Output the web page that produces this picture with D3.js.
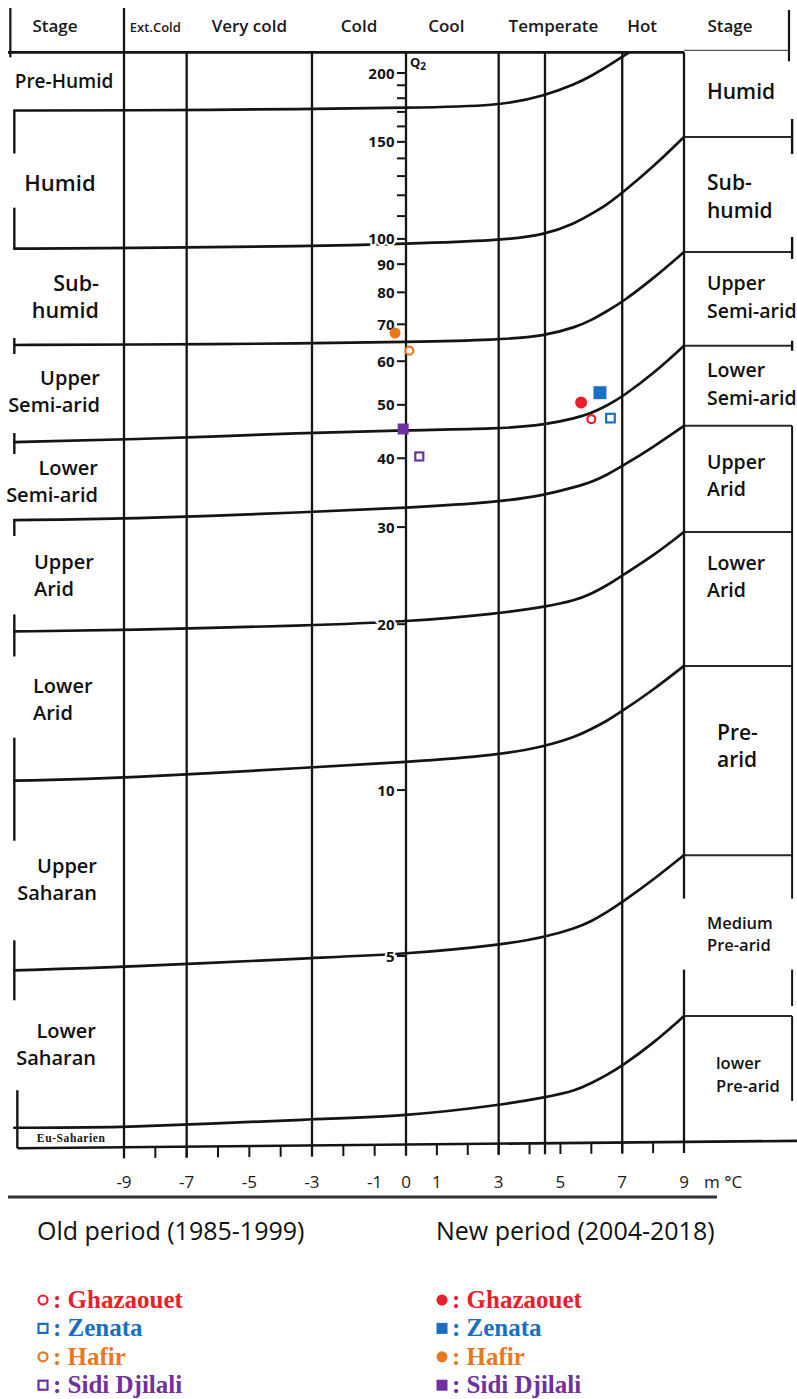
<!DOCTYPE html>
<html>
<head>
<meta charset="utf-8">
<script src="https://cdn.jsdelivr.net/npm/d3@7"></script>
<style>
  html, body { margin: 0; padding: 0; background: #fff; }
  svg { display: block; }
</style>
</head>
<body>
<svg id="chart" width="797" height="1399"></svg>
<script>
// Emberger climagram: pluviothermic quotient Q2 (log scale) against m,
// the mean minimum temperature of the coldest month (°C).

// ---- axes -------------------------------------------------------------
const mTicks = d3.range(-9, 10);
const mLabels = [-9, -7, -5, -3, -1, 0, 1, 3, 5, 7, 9];
const winterBounds = [-9, -7, -3, 0, 3, 4.5, 7, 9];
const winterClasses = ["Ext.Cold", "Very cold", "Cold", "Cool", "Temperate", "Hot"];
const winterClassEdges = [-9, -7, -3, 0, 3, 7, 9];
const q2Labels = [200, 150, 100, 90, 80, 70, 60, 50, 40, 30, 20, 10, 5];
const q2Minor = [110, 120, 130, 140, 160, 170, 180, 190];

// ---- bioclimatic boundary curves (Q2 at each m) -------------------------
const curveM    = [-12.5, -9, -3, 0, 3, 4.5, 5.5, 6, 6.5, 7, 8, 9];
const boundary1 = [171, 171, 172, 173, 174, 182, 191.1, 197.6, 205.2, 213.9, 232.6, null];
const boundary2 = [96, 96.3, 97, 98, 99.3, 101.7, 106.9, 111.0, 115.3, 121.2, 135.1, 153.1];
const boundary3 = [64.2, 64.3, 64.6, 65.0, 65.6, 66.7, 69.2, 71.2, 73.9, 76.8, 84.7, 94.7];
const boundary4 = [42.8, 43.2, 44.5, 45.0, 45.2, 46.0, 47.3, 48.3, 49.8, 51.7, 56.9, 64.0];
const boundary5 = [30.9, 31.0, 31.96, 32.5, 33.3, 34.3, 35.5, 36.2, 37.3, 38.7, 41.9, 45.8];
const boundary6 = [19.4, 19.5, 19.9, 20.2, 20.9, 21.5, 22.1, 22.7, 23.5, 24.5, 26.6, 29.4];
const boundary7 = [10.4, 10.5, 11.0, 11.24, 11.57, 12.0, 12.5, 12.9, 13.34, 13.91, 15.19, 16.8];
const boundary8 = [4.71, 4.77, 4.96, 5.04, 5.23, 5.41, 5.62, 5.78, 6.0, 6.26, 6.87, 7.62];
const boundary9 = [2.44, 2.44, 2.53, 2.56, 2.68, 2.77, 2.85, 2.94, 3.04, 3.16, 3.47, 3.89];
const qTop = 218;                       // upper edge of the diagram
const baselineM = [-12.4, 12.7];        // lower edge of the diagram
const baselineQ = [2.24, 2.31];

// ---- stage names --------------------------------------------------------
const leftStages = [
  ["Pre-Humid"], ["Humid"], ["Sub-", "humid"], ["Upper", "Semi-arid"], ["Lower", "Semi-arid"],
  ["Upper", "Arid"], ["Lower", "Arid"], ["Upper", "Saharan"], ["Lower", "Saharan"]
];
const rightStages = [
  ["Humid"], ["Sub-", "humid"], ["Upper", "Semi-arid"], ["Lower", "Semi-arid"], ["Upper", "Arid"],
  ["Lower", "Arid"], ["Pre-", "arid"], ["Medium", "Pre-arid"], ["lower", "Pre-arid"]
];

// ---- stations -----------------------------------------------------------
const periods  = ["Old period (1985-1999)", "New period (2004-2018)"];
const stations = ["Ghazaouet", "Zenata", "Hafir", "Sidi Djilali"];
const oldM = [6.0, 6.62, 0.11, 0.43];
const oldQ = [47.1, 47.3, 62.7, 40.3];
const newM = [5.67, 6.28, -0.35, -0.09];
const newQ = [50.5, 52.6, 67.5, 45.2];

// ---- styling ------------------------------------------------------------
const ink = "#141414";
const sans = "'Open Sans', 'Noto Sans', sans-serif";
const serif = "'Liberation Serif', 'Times New Roman', serif";
const stationStyle = {
  "Ghazaouet":    { color: "#e8202a", shape: "circle", rOld: 5,   rNew: 6 },
  "Zenata":       { color: "#1b6fc2", shape: "square", rOld: 5.3, rNew: 6.5 },
  "Hafir":        { color: "#e8771f", shape: "circle", rOld: 5,   rNew: 5.5 },
  "Sidi Djilali": { color: "#7030a0", shape: "square", rOld: 5,   rNew: 5.5 }
};

const svg = d3.select("#chart");
svg.append("rect").attr("width", 797).attr("height", 1399).attr("fill", "#fff");

const x = d3.scaleLinear().domain([-9, 0, 9]).range([124, 406, 684]);
const y = d3.scaleLog().domain([5, 200]).range([956, 73]);
const colLeft = -12.5, colRight = 12.5;
const baseQ = d3.scaleLinear().domain(baselineM).range(baselineQ);
const baseY = m => y(baseQ(m));
const yTop = y(qTop);

svg.append("clipPath").attr("id", "plotClip")
  .append("rect").attr("x", 0).attr("y", yTop).attr("width", 797).attr("height", 1399);

const grid = svg.append("g").attr("stroke", ink).attr("fill", "none");

// vertical winter-temperature boundaries (m = -9 also splits the header)
winterBounds.forEach(m => {
  grid.append("line")
    .attr("x1", x(m)).attr("x2", x(m))
    .attr("y1", m === -9 ? 8 : yTop).attr("y2", baseY(m) + 11)
    .attr("stroke-width", 2.3);
});

// m axis tick marks below the lower edge
mTicks.forEach(m => {
  grid.append("line")
    .attr("x1", x(m)).attr("x2", x(m))
    .attr("y1", baseY(m)).attr("y2", baseY(m) + 11)
    .attr("stroke-width", 2);
});

// lower edge
grid.append("line")
  .attr("x1", x(baselineM[0])).attr("y1", y(baselineQ[0]))
  .attr("x2", x(baselineM[1])).attr("y2", y(baselineQ[1]))
  .attr("stroke-width", 2.6);

// header frame
grid.append("line").attr("x1", 8).attr("x2", x(9)).attr("y1", yTop).attr("y2", yTop).attr("stroke-width", 2.8);
grid.append("line").attr("x1", x(9)).attr("x2", 789).attr("y1", yTop - 2).attr("y2", yTop - 2)
  .attr("stroke-width", 1.2).attr("stroke", "#555");
grid.append("line").attr("x1", x(colLeft) - 4).attr("x2", x(colLeft) - 4).attr("y1", 8).attr("y2", yTop + 5).attr("stroke-width", 2.2);
grid.append("line").attr("x1", 789).attr("x2", 789).attr("y1", 10).attr("y2", yTop + 9).attr("stroke-width", 2.2);

// boundary curves
const curves = [boundary1, boundary2, boundary3, boundary4, boundary5, boundary6, boundary7, boundary8, boundary9];
const lineGen = d3.line()
  .defined(d => d[1] != null)
  .x(d => x(d[0])).y(d => y(d[1]))
  .curve(d3.curveBasis);
const curveLayer = svg.append("g").attr("clip-path", "url(#plotClip)");
curves.forEach(qs => {
  curveLayer.append("path")
    .attr("d", lineGen(curveM.map((m, i) => [m, qs[i]])))
    .attr("fill", "none").attr("stroke", ink).attr("stroke-width", 2.7)
    .attr("stroke-linecap", "round");
});

// right stage column: continuation of each boundary at m = 9
const last = curveM.length - 1;
const rightBounds = [yTop].concat(curves.slice(1).map(qs => y(qs[last]))).concat([y(baseQ(colRight))]);
const leftBounds = [yTop].concat(curves.map(qs => y(qs[0]))).concat([baseY(colLeft)]);

rightBounds.slice(1, -1).forEach(yy => {
  grid.append("line").attr("x1", x(9)).attr("x2", x(colRight)).attr("y1", yy).attr("y2", yy)
    .attr("stroke-width", 2).attr("stroke", "#2a2a2a");
});

// bracket marks on the outer edges of the stage columns
const leftBrackets = [[0, 43], [41, 0], [7, 9], [9, 12], [1, 16], [17, 25], [43, 60], [30, 30]];
leftBrackets.forEach((b, i) => {
  const yy = leftBounds[i + 1];
  grid.append("line").attr("x1", x(colLeft)).attr("x2", x(colLeft))
    .attr("y1", yy - b[0]).attr("y2", yy + b[1]).attr("stroke-width", 2.4);
});
grid.append("line").attr("x1", x(colLeft) + 3).attr("x2", x(colLeft) + 3)
  .attr("y1", leftBounds[10] - 58).attr("y2", leftBounds[10]).attr("stroke-width", 2.4);

const rightBrackets = [[18, 17], [15, 7], [5, 5]];
rightBrackets.forEach((b, i) => {
  const yy = rightBounds[i + 1];
  grid.append("line").attr("x1", x(colRight)).attr("x2", x(colRight))
    .attr("y1", yy - b[0]).attr("y2", yy + b[1]).attr("stroke-width", 2.4);
});
grid.append("line").attr("x1", x(colRight)).attr("x2", x(colRight))
  .attr("y1", rightBounds[4]).attr("y2", rightBounds[8] - 10).attr("stroke-width", 2);
grid.append("line").attr("x1", x(colRight)).attr("x2", x(colRight))
  .attr("y1", rightBounds[8]).attr("y2", rightBounds[9] - 40).attr("stroke-width", 2);

// ---- Q2 axis along m = 0 ----------------------------------------------------
const x0 = x(0);
const axisG = svg.append("g");
q2Labels.forEach(q => {
  axisG.append("text")
    .attr("x", x0 - 11).attr("y", y(q) + 5.5)
    .attr("text-anchor", "end")
    .attr("font-family", sans).attr("font-size", 15).attr("font-weight", 700)
    .attr("letter-spacing", 0.3)
    .attr("fill", ink).attr("stroke", "#fff").attr("stroke-width", 4)
    .attr("paint-order", "stroke")
    .text(q);
});
q2Labels.concat(q2Minor).forEach(q => {
  axisG.append("line").attr("x1", x0 - 9).attr("x2", x0).attr("y1", y(q)).attr("y2", y(q))
    .attr("stroke", ink).attr("stroke-width", 2);
});
const qLab = axisG.append("text").attr("x", x0 + 4).attr("y", yTop + 15)
  .attr("font-family", sans).attr("font-size", 13).attr("font-weight", 700).attr("fill", ink);
qLab.append("tspan").text("Q");
qLab.append("tspan").attr("font-size", 10).attr("dy", 3).text("2");

// ---- header ----------------------------------------------------------------
const headG = svg.append("g").attr("font-family", sans).attr("fill", "#1a1a1a").attr("text-anchor", "middle")
  .attr("font-weight", 600);
const headNudge = [0, 0, 0, -6, -7, -11];
winterClasses.forEach((c, i) => {
  headG.append("text")
    .attr("x", (x(winterClassEdges[i]) + x(winterClassEdges[i + 1])) / 2 + headNudge[i])
    .attr("y", 32)
    .attr("font-size", c === "Ext.Cold" ? 13 : 17)
    .text(c);
});
headG.append("text").attr("x", 55).attr("y", 32).attr("font-size", 17).text("Stage");
headG.append("text").attr("x", 730).attr("y", 32).attr("font-size", 17).text("Stage");

// ---- stage labels -----------------------------------------------------------
function multiline(g, lines, px, cy, size, lh, anchor) {
  const t = g.append("text").attr("text-anchor", anchor).attr("font-size", size);
  const first = cy - (lines.length - 1) * lh / 2 + size * 0.36;
  lines.forEach((s, i) => t.append("tspan").attr("x", px).attr("y", first + i * lh).text(s));
}
const stageG = svg.append("g").attr("font-family", sans).attr("font-weight", 600).attr("fill", "#111");
const leftFmt = [
  { px: 64, a: "middle", s: 19, dy: 0 }, { px: 60, a: "middle", s: 22, dy: 3 },
  { px: 99, a: "end", s: 21.5, dy: 0 }, { px: 100, a: "end", s: 20, dy: -2 },
  { px: 98, a: "end", s: 20, dy: 0 }, { px: 34, a: "start", s: 20, dy: 0 },
  { px: 33, a: "start", s: 20, dy: -7 }, { px: 97, a: "end", s: 20, dy: 4 },
  { px: 96, a: "end", s: 20, dy: -5 }
];
leftStages.forEach((lines, i) => {
  const f = leftFmt[i];
  multiline(stageG, lines, f.px, (leftBounds[i] + leftBounds[i + 1]) / 2 + f.dy, f.s, 27, f.a);
});

const rightFmt = [
  { px: 707, s: 21, dy: -3, lh: 27 }, { px: 707, s: 21, dy: 2, lh: 28 },
  { px: 707, s: 19.5, dy: -2, lh: 28 }, { px: 707, s: 19.5, dy: -2, lh: 28 },
  { px: 707, s: 19.5, dy: -3, lh: 27 }, { px: 707, s: 19.5, dy: -22, lh: 27 },
  { px: 717, s: 21, dy: -15, lh: 27 }, { px: 707, s: 16.5, dy: -2, lh: 22 },
  { px: 716, s: 16.5, dy: -4, lh: 23 }
];
rightStages.forEach((lines, i) => {
  const f = rightFmt[i];
  const cy = (rightBounds[i] + rightBounds[i + 1]) / 2 + f.dy;
  if (lines[0] === "Medium") {
    // white card behind the label cuts the column lines
    stageG.append("rect").attr("x", x(9) - 2).attr("y", cy - 35).attr("width", 797 - x(9) + 2).attr("height", 71)
      .attr("fill", "#fff");
  }
  multiline(stageG, lines, f.px, cy, f.s, f.lh, "start");
});

// Eu-Saharien strip
svg.append("text")
  .attr("x", (x(colLeft) + x(-9)) / 2 + 2).attr("y", (leftBounds[9] + leftBounds[10]) / 2 + 4.5)
  .attr("text-anchor", "middle").attr("font-family", serif).attr("font-weight", 700)
  .attr("font-size", 11.5).attr("letter-spacing", 0.6).attr("fill", ink).text("Eu-Saharien");

// ---- m axis labels -----------------------------------------------------------
const mG = svg.append("g").attr("font-family", sans).attr("font-size", 17).attr("fill", "#1a1a1a");
mLabels.forEach(m => {
  mG.append("text").attr("x", x(m)).attr("y", 1188).attr("text-anchor", "middle").text(m);
});
mG.append("text").attr("x", x(9) + 20).attr("y", 1188).text("m °C");
svg.append("line").attr("x1", 8).attr("x2", 717).attr("y1", 1197).attr("y2", 1197)
  .attr("stroke", "#333").attr("stroke-width", 3);

// ---- station markers -----------------------------------------------------------
function marker(g, cx, cy, st, filled, r) {
  const c = stationStyle[st].color;
  if (stationStyle[st].shape === "circle") {
    g.append("circle").attr("cx", cx).attr("cy", cy).attr("r", filled ? r : r - 1)
      .attr("fill", filled ? c : "#fff").attr("stroke", c).attr("stroke-width", filled ? 0 : 2.2);
  } else {
    const h = filled ? r : r - 1;
    g.append("rect").attr("x", cx - h).attr("y", cy - h).attr("width", 2 * h).attr("height", 2 * h)
      .attr("fill", filled ? c : "#fff").attr("stroke", c).attr("stroke-width", filled ? 0 : 2.2);
  }
}
const markG = svg.append("g");
stations.forEach((s, i) => {
  marker(markG, x(oldM[i]), y(oldQ[i]), s, false, stationStyle[s].rOld);
  marker(markG, x(newM[i]), y(newQ[i]), s, true, stationStyle[s].rNew);
});

// ---- legend -------------------------------------------------------------------
const legG = svg.append("g");
const legCols = [43, 442];
periods.forEach((p, j) => {
  legG.append("text").attr("x", legCols[j] - 6).attr("y", 1240)
    .attr("font-family", sans).attr("font-size", 25).attr("fill", "#111").text(p);
  stations.forEach((s, i) => {
    const cy = 1300 + i * 28.4;
    marker(legG, legCols[j], cy, s, j === 1, 5.5);
    legG.append("text").attr("x", legCols[j] + 10).attr("y", cy + 8)
      .attr("font-family", serif).attr("font-weight", 700).attr("font-size", 25)
      .attr("fill", stationStyle[s].color).text(": " + s);
  });
});
</script>
</body>
</html>
